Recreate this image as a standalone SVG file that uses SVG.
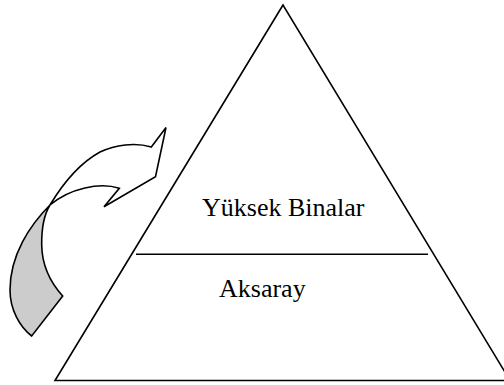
<svg xmlns="http://www.w3.org/2000/svg" width="504" height="385" viewBox="0 0 504 385">
<style>
.ln{fill:none;stroke:#000;stroke-width:1.6;stroke-linejoin:miter}
.txt{font-family:'Liberation Serif','Times New Roman',serif;font-size:26px;fill:#000}
</style>
<rect width="504" height="385" fill="#fff"/>
<g id="pyramid">
<polygon class="ln" points="283,5 55,380.5 510,380.5" fill="#fff"/>
<line class="ln" x1="136" y1="254.3" x2="428" y2="254.3"/>
</g>
<g id="top-level"><text class="txt" font-family="Liberation Serif, serif" x="202" y="216">Yüksek Binalar</text></g>
<g id="bottom-level"><text class="txt" font-family="Liberation Serif, serif" x="219" y="297">Aksaray</text></g>
<g id="connectors">
<path d="M50,205 C30,225 10,255 10,290 C10,310 20,327 31.7,336 L62.7,296 C50,282 42,265 41.7,245 C41.5,228 45,213 50,205 Z" fill="#cccccc" stroke="#000" stroke-width="1.6" stroke-linejoin="miter"/>
<path d="M50,205 C62,185 80,163 100,152 C115,145 135,142 151.3,147 L166,127.5 L155.5,176.7 L104,206.7 L119.3,188.3 C100,182 70,188 50,205 Z" fill="#fff" stroke="#000" stroke-width="1.6" stroke-linejoin="miter"/>
</g>
</svg>
